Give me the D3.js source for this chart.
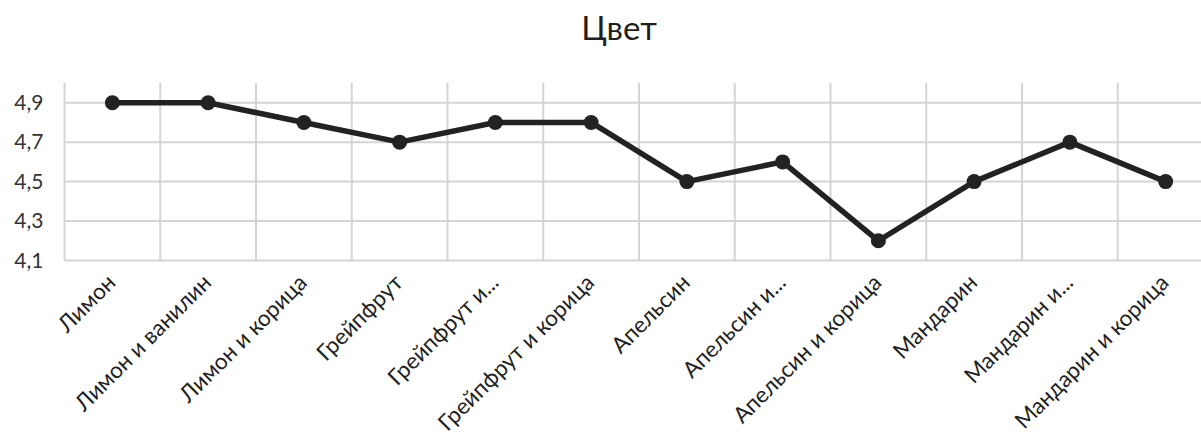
<!DOCTYPE html>
<html>
<head>
<meta charset="utf-8">
<script src="https://cdn.jsdelivr.net/npm/d3@7"></script>
<style>
  html, body { margin: 0; padding: 0; background: #fff; overflow: hidden; }
  svg { display: block; font-family: Lato, "Open Sans", sans-serif; }
</style>
</head>
<body>
<svg id="chart" width="1201" height="436"></svg>
<script>
// Оценка цвета по вариантам ароматизации
const categories = [
  "Лимон", "Лимон и ванилин", "Лимон и корица", "Грейпфрут",
  "Грейпфрут и...", "Грейпфрут и корица", "Апельсин", "Апельсин и...",
  "Апельсин и корица", "Мандарин", "Мандарин и...", "Мандарин и корица"
];
const values = [4.9, 4.9, 4.8, 4.7, 4.8, 4.8, 4.5, 4.6, 4.2, 4.5, 4.7, 4.5];
const yTicks = [4.1, 4.3, 4.5, 4.7, 4.9];
const yDomain = [4.1, 5.0];
const title = "Цвет";

const svg = d3.select("#chart");
const plot = { left: 64.5, right: 1213.5, top: 83, bottom: 260.5 };

const x = d3.scaleBand().domain(categories).range([plot.left, plot.right]).padding(0);
const y = d3.scaleLinear().domain(yDomain).range([plot.bottom, plot.top]);
const fmt = v => d3.format(".1f")(v).replace(".", ",");

svg.append("text")
  .attr("x", 619).attr("y", 40)
  .attr("text-anchor", "middle")
  .attr("font-size", 33)
  .attr("fill", "#1f1f1f")
  .text(title);

// Горизонтальные линии сетки
svg.append("g")
  .selectAll("line").data(yTicks).join("line")
  .attr("x1", plot.left).attr("x2", plot.right)
  .attr("y1", d => y(d)).attr("y2", d => y(d))
  .attr("stroke", "#d4d4d4").attr("stroke-width", 2);

// Вертикальные линии сетки на границах категорий
const bounds = categories.map(c => x(c)).concat([x(categories[categories.length - 1]) + x.bandwidth()]);
svg.append("g")
  .selectAll("line").data(bounds).join("line")
  .attr("x1", d => d).attr("x2", d => d)
  .attr("y1", plot.top).attr("y2", plot.bottom)
  .attr("stroke", "#d4d4d4").attr("stroke-width", 2);

// Подписи оси Y
const yAxis = d3.axisLeft(y).tickValues(yTicks).tickFormat(fmt).tickSize(0).tickPadding(21);
const gy = svg.append("g").attr("transform", `translate(${plot.left},0)`).call(yAxis);
gy.select(".domain").remove();
gy.selectAll("text").attr("font-size", 21).attr("fill", "#333").attr("font-family", "Lato, sans-serif");

// Подписи категорий
const xAxis = d3.axisBottom(x).tickSize(0).tickPadding(0);
const gx = svg.append("g").attr("transform", `translate(0,${plot.bottom})`).call(xAxis);
gx.select(".domain").remove();
gx.selectAll("text")
  .attr("font-size", 22.5).attr("fill", "#1f1f1f").attr("font-family", "Lato, sans-serif")
  .attr("text-anchor", "end")
  .attr("dy", "0.35em")
  .attr("transform", "translate(-1,18) rotate(-45)");

const cx = d => x(d) + x.bandwidth() / 2;
const line = d3.line().x((d, i) => cx(categories[i])).y(d => y(d));

svg.append("path")
  .datum(values)
  .attr("fill", "none")
  .attr("stroke", "#222")
  .attr("stroke-width", 5.5)
  .attr("stroke-linejoin", "round")
  .attr("d", line);

svg.append("g")
  .selectAll("circle").data(values).join("circle")
  .attr("cx", (d, i) => cx(categories[i]))
  .attr("cy", d => y(d))
  .attr("r", 7.5)
  .attr("fill", "#222");
</script>
</body>
</html>
